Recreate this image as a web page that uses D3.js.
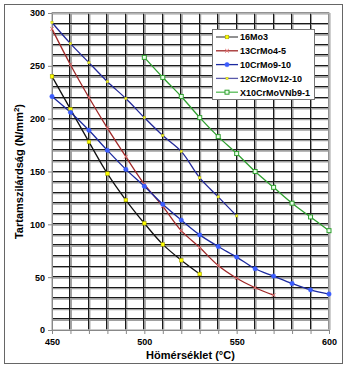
<!DOCTYPE html>
<html>
<head>
<meta charset="utf-8">
<script src="https://cdn.jsdelivr.net/npm/d3@7"></script>
<style>
  body { margin: 0; background: #fff; }
  svg { font-family: "Liberation Sans", Arial, sans-serif; }
</style>
</head>
<body>
<div id="chart"></div>
<script>
// Temperatures (°C) on the x axis
const temps = [450, 460, 470, 480, 490, 500, 510, 520, 530, 540, 550, 560, 570, 580, 590, 600]

// Creep strength values (N/mm2)
const mo3 = [240, 209, 178, 148, 123, 101, 81, 66, 53]
const crMo45 = [285, 251, 220, 191, 164, 138, 117, 94, 78, 61, 49, 40, 33]
const crMo910 = [221, 206, 189, 170, 152, 136, 119, 104, 90, 79, 69, 58, 51, 44, 38, 34]
const crMoV1210 = [291, 271, 253, 235, 219, 201, 184, 169, 144, 126, 108]
const x10CrMoVNb = [258, 239, 221, 201, 183, 167, 150, 135, 120, 107, 94]

const seriesNames = ['16Mo3', '13CrMo4-5', '10CrMo9-10', '12CrMoV12-10', 'X10CrMoVNb9-1']
const yTicks = [0, 50, 100, 150, 200, 250, 300]
const xTickLabels = [450, 500, 550, 600]

const width = 350
const height = 370
const margin = {left: 52, right: 21, top: 13, bottom: 40}
const w = 329 - margin.left
const h = 330 - margin.top

const series = [
  {name: seriesNames[0], t: temps.slice(0, mo3.length), v: mo3, line: '#111111', legendLine: '#555555', marker: 'diamond', mFill: '#ffff00', mStroke: '#999900', r: 1.8},
  {name: seriesNames[1], t: temps.slice(0, crMo45.length), v: crMo45, line: '#a02828', legendLine: '#a02828', marker: 'cross', mFill: 'none', mStroke: '#e07070', r: 1.8},
  {name: seriesNames[2], t: temps.slice(0, crMo910.length), v: crMo910, line: '#1c2aa0', legendLine: '#1c2aa0', marker: 'circle', mFill: '#3a5cff', mStroke: '#3a5cff', r: 2.2},
  {name: seriesNames[3], t: temps.slice(0, crMoV1210.length), v: crMoV1210, line: '#23299a', legendLine: '#5a5aaa', marker: 'diamond', mFill: '#ffff30', mStroke: '#bbbb00', r: 1.1},
  {name: seriesNames[4], t: temps.slice(5, 5 + x10CrMoVNb.length), v: x10CrMoVNb, line: '#2f9f2f', legendLine: '#55bb55', marker: 'square', mFill: '#e8ffe8', mStroke: '#2f9f2f', r: 2}
]

const svg = d3.select('#chart')
  .append('svg')
  .attr('width', width)
  .attr('height', height)

// Outer chart frame
svg.append('rect')
  .attr('x', 4.5).attr('y', 4.5)
  .attr('width', 338).attr('height', 359)
  .attr('fill', '#fff')
  .attr('stroke', '#666')
  .attr('stroke-width', 1)

const xScale = d3.scaleLinear().domain([450, 600]).range([0, w])
const yScale = d3.scaleLinear().domain([0, 300]).range([h, 0])

const g = svg.append('g')
  .attr('transform', `translate(${margin.left},${margin.top})`)

// Gridlines: grey band with a dark line on top
const gGrid = g.append('g')
const gridX = d3.range(460, 601, 10)
const gridY = d3.range(10, 301, 10)
gGrid.selectAll('.vgrid-b')
  .data(gridX)
  .join('line')
  .attr('x1', d => xScale(d) + 0.5).attr('x2', d => xScale(d) + 0.5)
  .attr('y1', 0).attr('y2', h)
  .attr('stroke', '#a0a0a0').attr('stroke-width', 2)
gGrid.selectAll('.hgrid-b')
  .data(gridY)
  .join('line')
  .attr('x1', 0).attr('x2', w)
  .attr('y1', d => yScale(d) + 0.5).attr('y2', d => yScale(d) + 0.5)
  .attr('stroke', '#a0a0a0').attr('stroke-width', 2)
gGrid.selectAll('.vgrid')
  .data(gridX)
  .join('line')
  .attr('class', 'vgrid')
  .attr('x1', d => Math.round(xScale(d)) - 0.5).attr('x2', d => Math.round(xScale(d)) - 0.5)
  .attr('y1', 0).attr('y2', h)
  .attr('stroke', '#1a1a1a').attr('stroke-width', 1)
gGrid.selectAll('.hgrid')
  .data(gridY)
  .join('line')
  .attr('class', 'hgrid')
  .attr('x1', 0).attr('x2', w)
  .attr('y1', d => Math.round(yScale(d)) - 0.5).attr('y2', d => Math.round(yScale(d)) - 0.5)
  .attr('stroke', '#1a1a1a').attr('stroke-width', 1)

// Plot area border (top / right in light grey)
g.append('rect')
  .attr('x', 0).attr('y', 0)
  .attr('width', w).attr('height', h)
  .attr('fill', 'none')
  .attr('stroke', '#bbb')
  .attr('stroke-width', 1.5)

// Axes
const lAxis = g.append('g')
  .call(d3.axisLeft(yScale).tickValues(yTicks).tickSize(4).tickSizeOuter(0))
const bAxis = g.append('g')
  .attr('transform', `translate(0,${h})`)
  .call(d3.axisBottom(xScale)
    .tickValues(d3.range(450, 601, 10))
    .tickFormat(d => xTickLabels.includes(d) ? d : '')
    .tickSize(4).tickSizeOuter(0))
;[lAxis, bAxis].forEach(a => {
  a.select('.domain').attr('stroke', '#888')
  a.selectAll('.tick line').attr('stroke', '#888')
  a.selectAll('.tick text')
    .attr('fill', '#000')
    .style('font-size', '9px')
    .style('font-weight', 'bold')
    .style('font-family', '"Liberation Sans", Arial, sans-serif')
})
lAxis.selectAll('.tick text').attr('x', -7)
bAxis.selectAll('.tick text').attr('y', 9)

// Axis titles
svg.append('text')
  .attr('x', margin.left + w / 2)
  .attr('y', 359)
  .attr('text-anchor', 'middle')
  .style('font-size', '11px')
  .style('font-weight', 'bold')
  .text('Hömérséklet (°C)')

const yTitle = svg.append('text')
  .attr('transform', `translate(23,${margin.top + h / 2}) rotate(270)`)
  .attr('text-anchor', 'middle')
  .style('font-size', '11px')
  .style('font-weight', 'bold')
yTitle.append('tspan').text('Tartamszilárdság (N/mm')
yTitle.append('tspan').attr('dy', -4).style('font-size', '8px').text('2')
yTitle.append('tspan').attr('dy', 4).text(')')

// Lines
const linePath = d3.line()
  .curve(d3.curveCatmullRom)
  .x(d => xScale(d.t))
  .y(d => yScale(d.v))

const gLines = g.append('g')
series.forEach(s => {
  const pts = s.t.map((t, i) => ({t: t, v: s.v[i]}))
  gLines.append('path')
    .attr('d', linePath(pts))
    .attr('fill', 'none')
    .attr('stroke', s.line)
    .attr('stroke-width', 1.3)
})

function drawMarker(sel, s, x, y) {
  const r = s.r
  if (s.marker === 'circle') {
    sel.append('circle')
      .attr('cx', x).attr('cy', y).attr('r', r)
      .attr('fill', s.mFill).attr('stroke', s.mStroke).attr('stroke-width', 0.5)
  } else if (s.marker === 'square') {
    sel.append('rect')
      .attr('x', x - r).attr('y', y - r).attr('width', 2 * r).attr('height', 2 * r)
      .attr('fill', s.mFill).attr('stroke', s.mStroke).attr('stroke-width', 1)
  } else if (s.marker === 'diamond') {
    sel.append('rect')
      .attr('x', x - r).attr('y', y - r).attr('width', 2 * r).attr('height', 2 * r)
      .attr('fill', s.mFill).attr('stroke', s.mStroke).attr('stroke-width', 0.5)
  } else if (s.marker === 'cross') {
    sel.append('path')
      .attr('d', `M${x - r},${y - r}L${x + r},${y + r}M${x - r},${y + r}L${x + r},${y - r}`)
      .attr('stroke', s.mStroke).attr('stroke-width', 1)
  }
}

// Markers
const gMarks = g.append('g')
series.forEach(s => {
  s.t.forEach((t, i) => drawMarker(gMarks, s, xScale(t), yScale(s.v[i])))
})

// Legend
const legend = svg.append('g')
legend.append('rect')
  .attr('x', 212.5).attr('y', 29.5)
  .attr('width', 102).attr('height', 70)
  .attr('fill', '#fff')
  .attr('stroke', '#777')
  .attr('stroke-width', 1)
series.forEach((s, i) => {
  const ly = 37 + i * 13.8
  legend.append('line')
    .attr('x1', 216).attr('x2', 238)
    .attr('y1', ly).attr('y2', ly)
    .attr('stroke', s.legendLine)
    .attr('stroke-width', 1.3)
  drawMarker(legend, s, 227, ly)
  legend.append('text')
    .attr('x', 240)
    .attr('y', ly + 3.3)
    .style('font-size', '9px')
    .style('font-weight', 'bold')
    .text(s.name)
})
</script>
</body>
</html>
